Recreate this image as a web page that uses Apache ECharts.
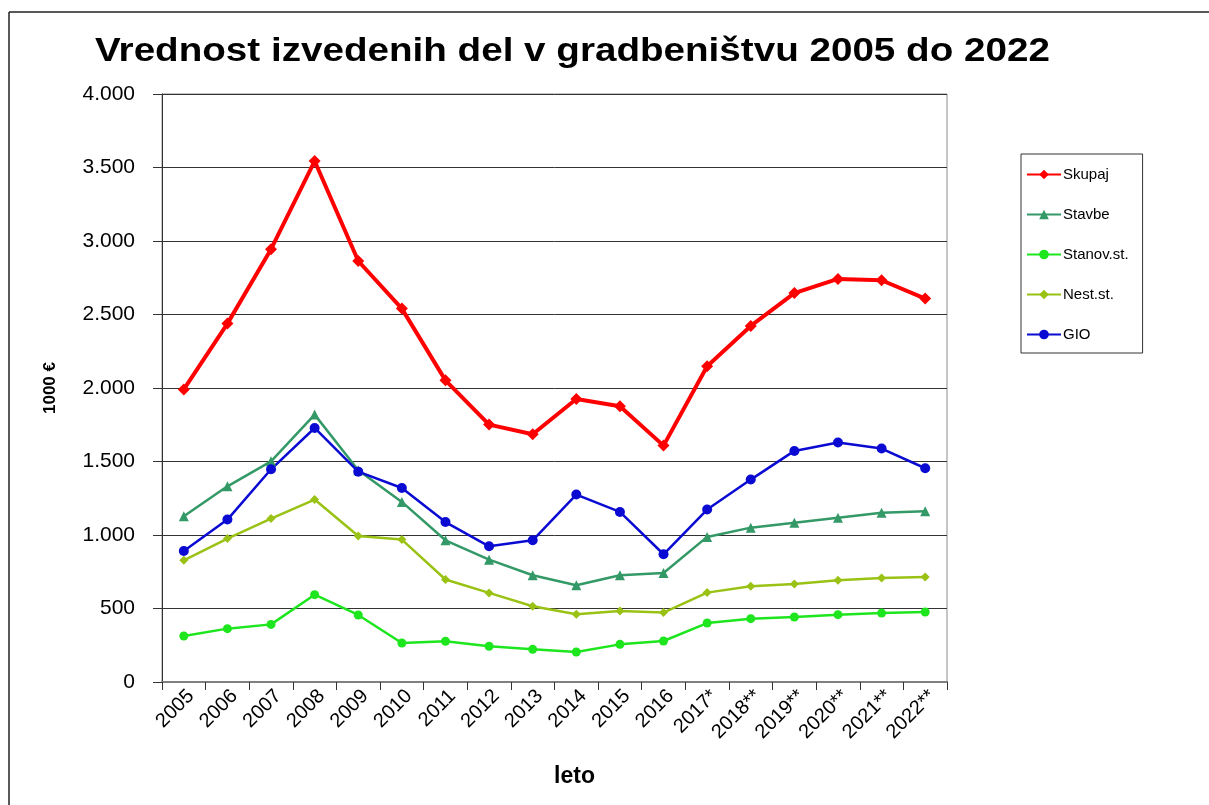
<!DOCTYPE html>
<html>
<head>
<meta charset="utf-8">
<script src="https://cdn.jsdelivr.net/npm/echarts@6/dist/echarts.min.js"></script>
<style>
  html, body { margin: 0; padding: 0; background: #fff; }
  #chart { width: 1209px; height: 805px; }
</style>
</head>
<body>
<div id="chart"></div>
<script>
// podatki (1000 €)
const years = ["2005", "2006", "2007", "2008", "2009", "2010", "2011", "2012", "2013",
  "2014", "2015", "2016", "2017*", "2018**", "2019**", "2020**", "2021**", "2022**"]
const skupaj = [1990, 2438, 2944, 3544, 2864, 2540, 2052, 1751, 1685,
  1925, 1876, 1608, 2148, 2422, 2646, 2742, 2733, 2608]
const stavbe = [1127, 1331, 1501, 1819, 1440, 1225, 964, 832, 726,
  658, 726, 742, 987, 1050, 1084, 1118, 1152, 1161]
const stanov = [313, 363, 392, 594, 456, 265, 277, 243, 222,
  204, 256, 279, 401, 431, 442, 458, 469, 476]
const nest = [828, 976, 1112, 1241, 993, 969, 697, 606, 515,
  461, 483, 472, 608, 651, 667, 692, 708, 714]
const gio = [891, 1105, 1447, 1728, 1431, 1320, 1088, 923, 964,
  1275, 1157, 869, 1173, 1377, 1572, 1629, 1588, 1454]

const font = '"Liberation Sans", Arial, sans-serif'

const chart = echarts.init(document.getElementById("chart"))

const mkSeries = (name, data, color, symbol, size, width) => ({
  name: name,
  type: "line",
  data: data,
  symbol: symbol,
  symbolSize: size,
  showAllSymbol: true,
  itemStyle: { color: color },
  lineStyle: { color: color, width: width },
  animation: false,
})

chart.setOption({
  animation: false,
  textStyle: { fontFamily: font },
  legend: {
    orient: "vertical",
    left: 1021,
    top: 154,
    padding: [13, 14, 11, 5],
    itemGap: 25,
    itemWidth: 34,
    itemHeight: 12,
    borderColor: "#333",
    borderWidth: 1,
    textStyle: { fontSize: 15, color: "#000", fontFamily: font, padding: [0, 0, 0, -3] },
    data: ["Skupaj", "Stavbe", "Stanov.st.", "Nest.st.", "GIO"],
  },
  grid: {
    left: 162,
    right: 262,
    top: 94,
    bottom: 123,
    show: true,
    borderColor: "#8c8c8c",
    borderWidth: 1,
  },
  xAxis: {
    type: "category",
    data: years,
    boundaryGap: true,
    name: "leto",
    nameLocation: "middle",
    nameGap: 83,
    nameTextStyle: { fontSize: 23, fontWeight: "bold", color: "#000", fontFamily: font, padding: [0, 0, 0, 40] },
    axisLine: { lineStyle: { color: "#808080", width: 2 } },
    axisTick: { show: true, length: 8, alignWithLabel: false, lineStyle: { color: "#333" } },
    axisLabel: { rotate: 45, fontSize: 20, color: "#000", margin: 4, verticalAlign: "top", fontFamily: font, interval: 0 },
  },
  yAxis: {
    type: "value",
    min: 0,
    max: 4000,
    interval: 500,
    name: "1000 €",
    nameLocation: "middle",
    nameRotate: 90,
    nameGap: 103,
    nameTextStyle: { fontSize: 17, fontWeight: "bold", color: "#000", fontFamily: font },
    axisLine: { show: true, lineStyle: { color: "#333" } },
    axisTick: { show: true, length: 9, lineStyle: { color: "#333" } },
    axisLabel: {
      fontSize: 21,
      color: "#000",
      margin: 27,
      fontFamily: font,
      formatter: (v) => v.toLocaleString("de-DE"),
    },
    splitLine: { lineStyle: { color: "#333", width: 1 } },
  },
  graphic: [
    { type: "line", shape: { x1: 9, y1: 12, x2: 1209, y2: 12 }, style: { stroke: "#222", lineWidth: 1.5 } },
    { type: "line", shape: { x1: 9, y1: 12, x2: 9, y2: 805 }, style: { stroke: "#222", lineWidth: 1.5 } },
    // naslov (v izvirniku je pisava raztegnjena v širino)
    {
      type: "text",
      x: 95,
      y: 35,
      scaleX: 1.17,
      style: {
        text: "Vrednost izvedenih del v gradbeništvu 2005 do 2022",
        font: 'bold 33px "Liberation Sans", Arial, sans-serif',
        fill: "#000",
        verticalAlign: "top",
      },
    },
  ],
  series: [
    mkSeries("Skupaj", skupaj, "#ff0000", "diamond", 12, 4),
    mkSeries("Stavbe", stavbe, "#339966", "triangle", 10, 2.5),
    mkSeries("Stanov.st.", stanov, "#1ee61e", "circle", 9, 2.5),
    mkSeries("Nest.st.", nest, "#99c214", "diamond", 9, 2.5),
    mkSeries("GIO", gio, "#0a0ad2", "circle", 10, 2.5),
  ],
})
</script>
</body>
</html>
